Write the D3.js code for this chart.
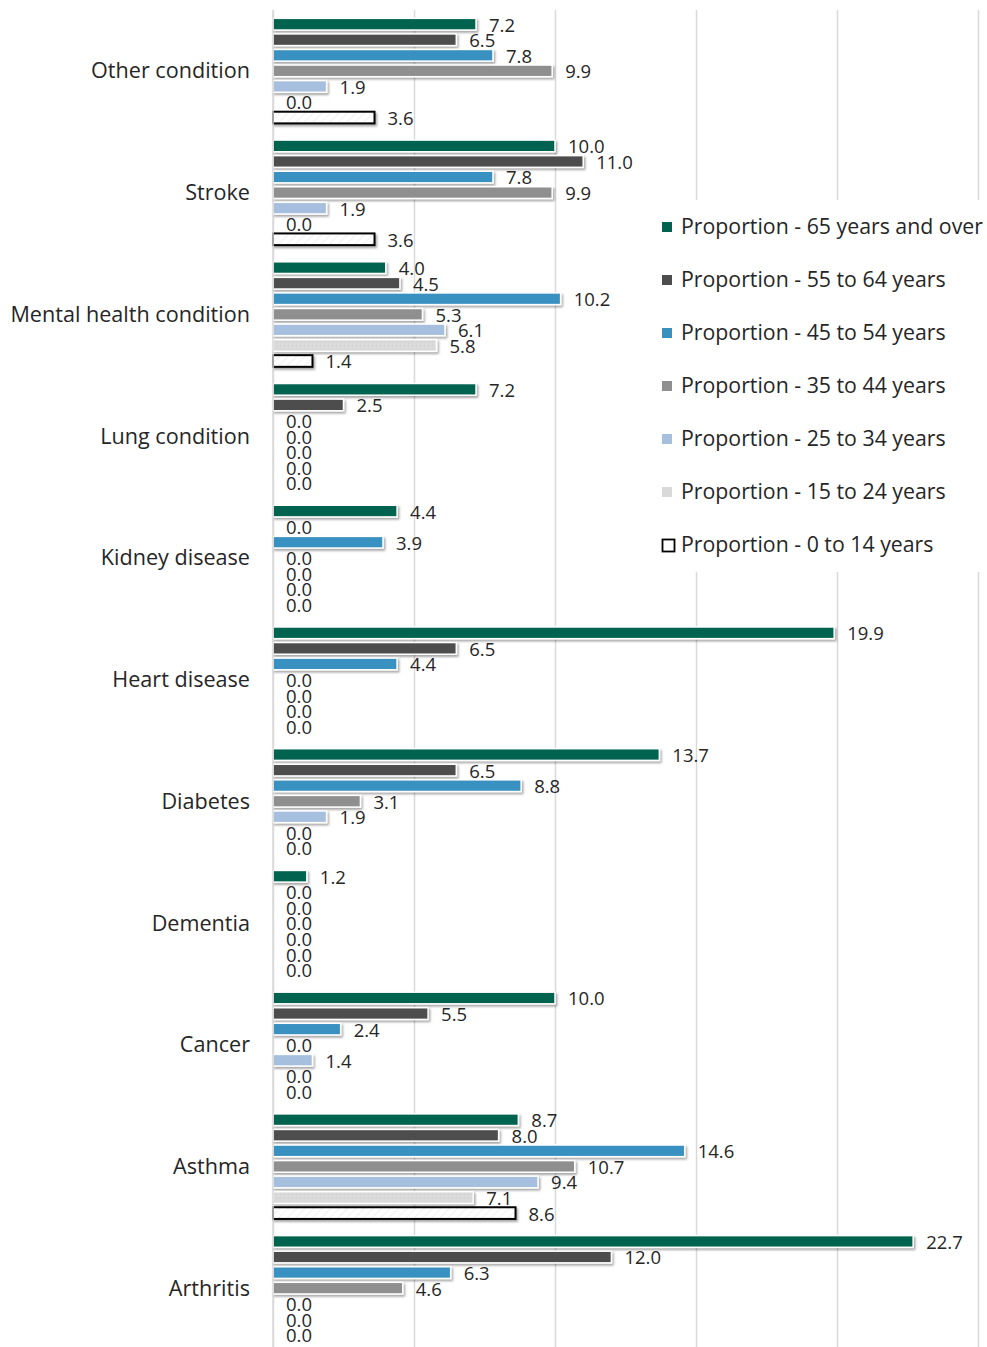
<!DOCTYPE html>
<html>
<head>
<meta charset="utf-8">
<script src="https://cdn.jsdelivr.net/npm/d3@7/dist/d3.min.js"></script>
<style>
  html, body { margin: 0; padding: 0; background: #fff; }
  svg { display: block; }
  text { font-family: "Open Sans", Lato, sans-serif; fill: #262626; }
</style>
</head>
<body>
<svg id="chart" width="987" height="1347"></svg>
<script>
// Chronic conditions: proportion (%) by age group
const categories = [
  "Other condition", "Stroke", "Mental health condition", "Lung condition",
  "Kidney disease", "Heart disease", "Diabetes", "Dementia", "Cancer",
  "Asthma", "Arthritis"
];

const seriesNames = [
  "Proportion - 65 years and over",
  "Proportion - 55 to 64 years",
  "Proportion - 45 to 54 years",
  "Proportion - 35 to 44 years",
  "Proportion - 25 to 34 years",
  "Proportion - 15 to 24 years",
  "Proportion - 0 to 14 years"
];

// values per series, in category order
const age65plus = [7.2, 10.0, 4.0, 7.2, 4.4, 19.9, 13.7, 1.2, 10.0, 8.7, 22.7];
const age55to64 = [6.5, 11.0, 4.5, 2.5, 0.0, 6.5, 6.5, 0.0, 5.5, 8.0, 12.0];
const age45to54 = [7.8, 7.8, 10.2, 0.0, 3.9, 4.4, 8.8, 0.0, 2.4, 14.6, 6.3];
const age35to44 = [9.9, 9.9, 5.3, 0.0, 0.0, 0.0, 3.1, 0.0, 0.0, 10.7, 4.6];
const age25to34 = [1.9, 1.9, 6.1, 0.0, 0.0, 0.0, 1.9, 0.0, 1.4, 9.4, 0.0];
const age15to24 = [0.0, 0.0, 5.8, 0.0, 0.0, 0.0, 0.0, 0.0, 0.0, 7.1, 0.0];
const age0to14  = [3.6, 3.6, 1.4, 0.0, 0.0, 0.0, 0.0, 0.0, 0.0, 8.6, 0.0];

const xTicks = [0, 5, 10, 15, 20, 25];

const seriesValues = [age65plus, age55to64, age45to54, age35to44, age25to34, age15to24, age0to14];

const svg = d3.select("#chart");

// ---- patterns and shadow ----
const defs = svg.append("defs");

const shadow = defs.append("filter").attr("id", "shadow")
  .attr("x", "-5%").attr("y", "-40%").attr("width", "115%").attr("height", "200%");
shadow.append("feDropShadow")
  .attr("dx", 1.5).attr("dy", 2).attr("stdDeviation", 1.3)
  .attr("flood-color", "#000").attr("flood-opacity", 0.35);

const p1 = defs.append("pattern").attr("id", "dots15")
  .attr("width", 4).attr("height", 4).attr("patternUnits", "userSpaceOnUse");
p1.append("rect").attr("width", 4).attr("height", 4).attr("fill", "#d9d9d9");
p1.append("rect").attr("x", 0).attr("y", 0).attr("width", 1).attr("height", 1).attr("fill", "#cfcfcf");
p1.append("rect").attr("x", 2).attr("y", 2).attr("width", 1).attr("height", 1).attr("fill", "#e3e3e3");

const p2 = defs.append("pattern").attr("id", "hatch")
  .attr("width", 6).attr("height", 6).attr("patternUnits", "userSpaceOnUse")
  .attr("patternTransform", "rotate(45)");
p2.append("rect").attr("width", 6).attr("height", 6).attr("fill", "#ffffff");
p2.append("line").attr("x1", 0).attr("y1", 0).attr("x2", 0).attr("y2", 6)
  .attr("stroke", "#e6e6e6").attr("stroke-width", 1.2);

const fills = ["#00634f", "#4d4d4d", "#3991c1", "#8f8f8f", "#a7bfde", "url(#dots15)", "url(#hatch)"];
const legendFills = ["#00634f", "#4d4d4d", "#3991c1", "#8f8f8f", "#a7bfde", "#d9d9d9", "#ffffff"];

// ---- scales ----
const x = d3.scaleLinear().domain([0, 25]).range([273, 978]);
const y0 = d3.scaleBand().domain(categories).range([10, 1349]);
const y1 = d3.scaleBand().domain(d3.range(seriesNames.length))
  .range([6.4, y0.bandwidth() - 6.4]).paddingInner(0.25).paddingOuter(0.125);

// ---- gridlines ----
const grid = svg.append("g")
  .attr("transform", `translate(0,${y0.range()[1]})`)
  .call(d3.axisBottom(x).tickValues(xTicks).tickSize(-(y0.range()[1] - y0.range()[0])).tickFormat(""));
grid.select(".domain").remove();
grid.selectAll(".tick line").attr("stroke", "#d9d9d9").attr("stroke-width", 1.5);

// ---- legend background (covers gridlines) ----
svg.append("rect").attr("x", 650).attr("y", 200).attr("width", 337).attr("height", 372).attr("fill", "#fff");

// ---- bars ----
const rows = categories.map((c, i) => ({
  cat: c,
  vals: seriesValues.map((arr, s) => ({ s, v: arr[i] }))
}));

const groups = svg.append("g").selectAll("g").data(rows).join("g")
  .attr("transform", d => `translate(0,${y0(d.cat)})`);

groups.selectAll("rect").data(d => d.vals.filter(e => e.v > 0)).join("rect")
  .attr("x", x(0))
  .attr("y", d => y1(d.s))
  .attr("width", d => x(d.v) - x(0))
  .attr("height", y1.bandwidth())
  .attr("fill", d => fills[d.s])
  .attr("stroke", d => d.s === 6 ? "#000" : "#fff")
  .attr("stroke-width", d => d.s === 6 ? 2 : 1.5)
  .attr("filter", "url(#shadow)");

groups.selectAll("text").data(d => d.vals).join("text")
  .attr("x", d => x(d.v) + 13)
  .attr("y", d => y1(d.s) + y1.bandwidth() / 2 + 1)
  .attr("dy", "0.35em")
  .attr("font-size", 18.5)
  .text(d => d.v.toFixed(1));

// ---- category axis ----
svg.append("g").selectAll("text").data(categories).join("text")
  .attr("x", 250)
  .attr("y", d => y0(d) + y0.bandwidth() / 2)
  .attr("dy", "0.35em")
  .attr("text-anchor", "end")
  .attr("font-size", 21.6)
  .text(d => d);

svg.append("line")
  .attr("x1", x(0)).attr("x2", x(0))
  .attr("y1", y0.range()[0]).attr("y2", y0.range()[1])
  .attr("stroke", "#d9d9d9").attr("stroke-width", 1.5);

// ---- legend ----
const legend = svg.append("g").selectAll("g").data(seriesNames).join("g")
  .attr("transform", (d, i) => `translate(662,${227 + i * 53})`);

legend.append("rect")
  .attr("x", (d, i) => i === 6 ? 0.5 : 0).attr("y", (d, i) => i === 6 ? -5.5 : -5)
  .attr("width", (d, i) => i === 6 ? 12 : 10).attr("height", (d, i) => i === 6 ? 12 : 10)
  .attr("fill", (d, i) => legendFills[i])
  .attr("stroke", (d, i) => i === 6 ? "#000" : "none")
  .attr("stroke-width", 1.8);

legend.append("text")
  .attr("x", 19)
  .attr("dy", "0.35em")
  .attr("font-size", 21.3)
  .text(d => d);
</script>
</body>
</html>
